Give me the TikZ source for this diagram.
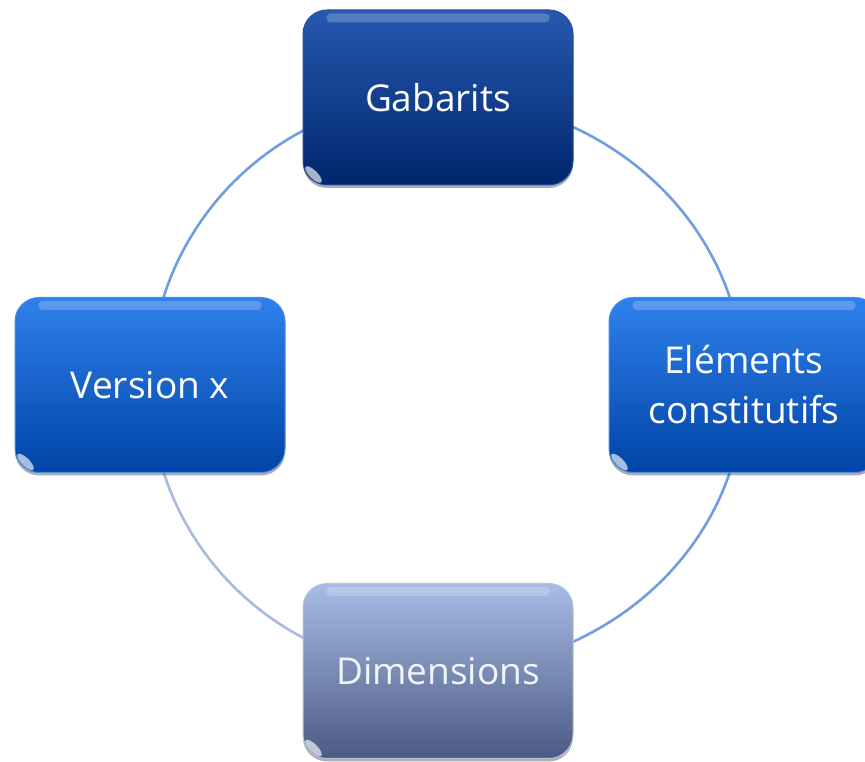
\documentclass[tikz,border=0pt]{standalone}
\usepackage{fontspec}
\setmainfont{Open Sans}
\usetikzlibrary{backgrounds,shadows}
\definecolor{arcblue}{HTML}{6E9EE0}
\definecolor{arcpale}{HTML}{A9BBDD}
\definecolor{darktop}{HTML}{2659B0}
\definecolor{darkbot}{HTML}{00266C}
\definecolor{darkedge}{HTML}{23509E}
\definecolor{brighttop}{HTML}{3080EC}
\definecolor{brightbot}{HTML}{0044A6}
\definecolor{brightedge}{HTML}{4A8BE6}
\definecolor{greytop}{HTML}{A9BCE6}
\definecolor{greybot}{HTML}{4B5A82}
\definecolor{greyedge}{HTML}{B4C2E4}
\definecolor{greytext}{HTML}{F2F4FA}
\tikzset{
  box/.style={rounded corners=24pt, minimum width=270pt, minimum height=175pt,
    inner sep=0pt, align=center, text=white, font=\fontsize{37}{50}\selectfont,
    line width=1pt,
    drop shadow={shadow xshift=0pt, shadow yshift=-3pt, opacity=0.45, fill=black!70}},
  darkbox/.style={box, top color=darktop, bottom color=darkbot, draw=darkedge},
  brightbox/.style={box, top color=brighttop, bottom color=brightbot, draw=brightedge},
  greybox/.style={box, top color=greytop, bottom color=greybot, draw=greyedge, text=greytext},
  gloss/.style={white, opacity=0.22, rounded corners=4pt},
  glint/.style={white, opacity=0.65},
  arc/.style={draw=arcblue, line width=2.6pt},
  arcfade/.style={draw=arcpale, line width=2.6pt},
}
\begin{document}
\begin{tikzpicture}[x=1pt,y=1pt]
\useasboundingbox (0,0) rectangle (865,762);
\clip (0,0) rectangle (865,762);
\node[darkbox]   (top)    at (438,664.5) {Gabarits};
\node[brightbox] (left)   at (150,377)   {Version x};
\node[brightbox] (right)  at (744,377)   {Eléments\\constitutifs};
\node[greybox]   (bottom) at (438,91)    {Dimensions};
\foreach \n in {top,left,right,bottom}{
  \fill[gloss] ([xshift=24pt,yshift=-4pt]\n.north west) rectangle ([xshift=-24pt,yshift=-13pt]\n.north east);
  \begin{scope}[shift={([xshift=11pt,yshift=11pt]\n.south west)},rotate=45]
    \fill[glint] (0,0) ellipse [x radius=4pt, y radius=11pt];
  \end{scope}
}
\begin{scope}[on background layer]
  \draw[arc] (top.center) to[out=180,in=90] (left.center);
  \draw[arc] (top.center) to[out=0,in=90] (right.center);
  \draw[arc] (right.center) to[out=-90,in=0] (bottom.center);
  \draw[arcfade] (left.center) to[out=-90,in=180] (bottom.center);
\end{scope}
\end{tikzpicture}
\end{document}
